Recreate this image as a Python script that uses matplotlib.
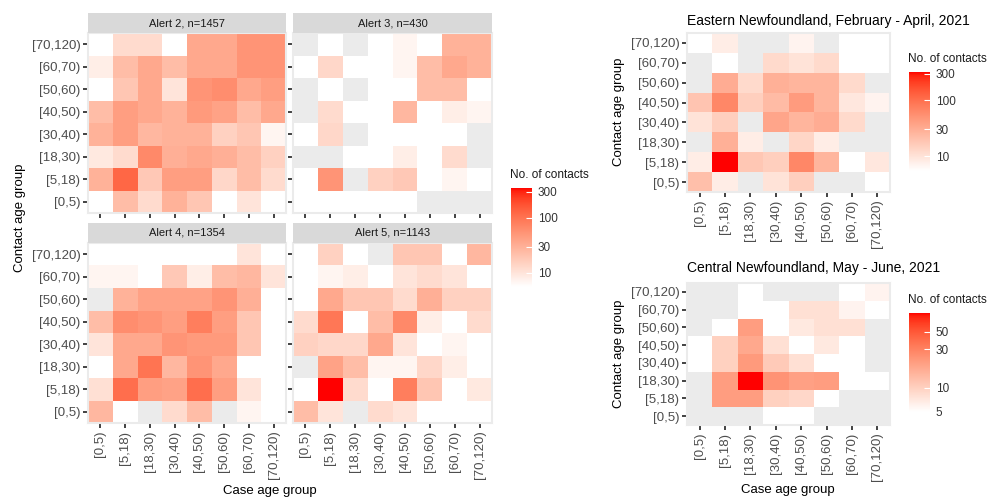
import numpy as np
import matplotlib
matplotlib.use("Agg")
import matplotlib.pyplot as plt
from matplotlib.colors import ListedColormap, LogNorm
from matplotlib.cm import ScalarMappable

plt.rcParams['font.family'] = ['Liberation Sans', 'DejaVu Sans']

age_groups = ['[0,5)', '[5,18)', '[18,30)', '[30,40)', '[40,50)', '[50,60)', '[60,70)', '[70,120)']
nan = np.nan

# contact counts, rows = contact age from [70,120) (top) down to [0,5) (bottom),
# columns = case age [0,5) ... [70,120); nan = no data (grey tile)
alert2 = [[5, 12, 12, 5, 36, 36, 54, 54],
          [8, 23, 36, 23, 36, 36, 54, 54],
          [5, 19, 36, 10, 54, 61, 36, 44],
          [23, 44, 36, 29, 48, 40, 23, 36],
          [29, 44, 26, 29, 29, 15, 19, 7],
          [9, 12, 66, 31, 36, 31, 23, 15],
          [29, 124, 18, 44, 44, 13, 23, 12],
          [5, 23, 12, 29, 19, 5, 10, 5]]
alert3 = [[nan, 5, nan, 5, 7, 5, 29, 29],
          [5, 13, 5, 5, 7, 23, 36, 29],
          [nan, 5, nan, 5, 5, 23, 23, 5],
          [nan, 12, 5, 5, 26, 5, 8, 7],
          [5, 13, nan, 5, 5, 5, 5, nan],
          [nan, nan, 5, 5, 8, 5, 12, nan],
          [5, 54, nan, 15, 18, 5, 7, 5],
          [5, 5, 5, 5, 5, nan, nan, nan]]
alert4 = [[5, 5, 5, 5, 5, 5, 10, 5],
          [7, 7, 5, 18, 8, 23, 26, 10],
          [nan, 29, 40, 40, 40, 54, 31, 5],
          [23, 61, 54, 44, 82, 44, 19, 5],
          [10, 36, 36, 54, 48, 48, 19, 5],
          [5, 36, 100, 26, 54, 36, 5, 5],
          [11, 109, 44, 40, 109, 44, 10, 5],
          [26, 5, nan, 12, 23, nan, 7, 5]]
alert5 = [[5, 15, 5, nan, 19, 19, 5, 26],
          [5, 7, 8, 5, 10, 12, 10, 5],
          [5, 36, 19, 19, 12, 31, 15, 15],
          [12, 93, 5, 23, 66, 8, 5, 12],
          [15, 13, 13, 36, 10, 5, 7, 5],
          [nan, 40, 23, 7, 7, 13, 8, 5],
          [5, 350, 12, 5, 82, 19, 5, 9],
          [23, 10, nan, 12, 10, 5, 5, 5]]
eastern = [[5, 8, nan, nan, 7, nan, 5, 5],
           [nan, 5, nan, 12, 10, 12, 5, 5],
           [nan, 31, 12, 29, 26, 26, 12, nan],
           [19, 66, 15, 23, 44, 26, 9, 7],
           [10, 15, nan, 36, 26, 31, 12, nan],
           [nan, 29, 8, nan, 13, 8, nan, nan],
           [8, 320, 18, 15, 66, 26, 5, 9],
           [21, 8, nan, 10, 15, nan, nan, 5]]
central = [[nan, nan, 5, nan, nan, nan, 5, 6],
           [nan, nan, 5, 5, 8, 8, 6, 5],
           [nan, 5, 21, 5, 7, 8, 8, nan],
           [5, 10, 18, 8, 5, 7, 5, nan],
           [5, 10, 22, 11, 8, 5, 5, nan],
           [nan, 21, 85, 24, 20, 21, 5, 5],
           [nan, 21, 21, 10, 9, 5, nan, nan],
           [nan, nan, nan, 5, 5, nan, nan, nan]]

alert_titles = ['Alert 2, n=1457', 'Alert 3, n=430', 'Alert 4, n=1354', 'Alert 5, n=1143']


# white -> red gradient interpolated in CIELAB (like ggplot's scale_fill_gradient)
def _lin(c):
    return np.where(c <= 0.04045, c / 12.92, ((c + 0.055) / 1.055) ** 2.4)


def _gam(c):
    c = np.clip(c, 0, 1)
    return np.where(c <= 0.0031308, 12.92 * c, 1.055 * c ** (1 / 2.4) - 0.055)


M = np.array([[0.4124, 0.3576, 0.1805], [0.2126, 0.7152, 0.0722], [0.0193, 0.1192, 0.9505]])
WP = np.array([0.95047, 1.0, 1.08883])
D = 6 / 29


def rgb2lab(rgb):
    xyz = M @ _lin(np.asarray(rgb, float)) / WP
    f = np.where(xyz > D ** 3, np.cbrt(xyz), xyz / (3 * D ** 2) + 4 / 29)
    return np.array([116 * f[1] - 16, 500 * (f[0] - f[1]), 200 * (f[1] - f[2])])


def lab2rgb(lab):
    L, a, b = lab
    fy = (L + 16) / 116
    f = np.array([fy + a / 500, fy, fy - b / 200])
    xyz = np.where(f > D, f ** 3, 3 * D ** 2 * (f - 4 / 29)) * WP
    return _gam(np.linalg.solve(M, xyz))


lo, hi = rgb2lab([1, 1, 1]), rgb2lab([1, 0, 0])
cmap = ListedColormap([lab2rgb(lo + t * (hi - lo)) for t in np.linspace(0, 1, 256)])
cmap.set_bad((0, 0, 0, 0))
cmap.set_under('white')

W, H = 998, 499
fig = plt.figure(figsize=(W / 100, H / 100), dpi=100)
TXT = '#4D4D4D'


def px_axes(x0, y0, x1, y1):
    return fig.add_axes([x0 / W, 1 - y1 / H, (x1 - x0) / W, (y1 - y0) / H])


def heat(ax, data, norm, ylab=True, xlab=True):
    z = np.ma.masked_invalid(np.array(data, float)[::-1])
    ax.set_facecolor('#EBEBEB')
    ax.pcolormesh(np.arange(9) - 0.5, np.arange(9) - 0.5, z, cmap=cmap, norm=norm)
    ax.set_xlim(-0.5, 7.5)
    ax.set_ylim(-0.5, 7.5)
    ax.set_xticks(range(8))
    ax.set_yticks(range(8))
    ax.set_xticklabels(age_groups if xlab else [], rotation=90)
    ax.set_yticklabels(age_groups if ylab else [])
    ax.tick_params(length=3.5, width=1.3, color='#333333', labelcolor=TXT,
                   labelsize=9.5, pad=2)
    for s in ax.spines.values():
        s.set_color('#EBEBEB')
        s.set_linewidth(1.5)


def legend(x0, y0, norm, ticks):
    cax = px_axes(x0, y0, x0 + 21, y0 + 99)
    cb = fig.colorbar(ScalarMappable(norm=norm, cmap=cmap), cax=cax)
    cb.outline.set_visible(False)
    cb.set_ticks(ticks)
    cb.set_ticklabels([str(t) for t in ticks])
    cb.minorticks_off()
    cax.tick_params(length=4, width=0.8, color='white', direction='in',
                    labelsize=8.5, labelcolor='#333333', pad=4)
    fig.text((x0 - 1) / W, 1 - (y0 - 7) / H, 'No. of contacts', fontsize=8.5,
             ha='left', va='bottom', color='#1A1A1A')


# left: faceted alerts
norm_left = LogNorm(vmin=5.5, vmax=350)
boxes = [(88, 33, 286, 213), (293, 33, 492, 213), (88, 243, 286, 423), (293, 243, 492, 423)]
for i, (data, (x0, y0, x1, y1)) in enumerate(zip([alert2, alert3, alert4, alert5], boxes)):
    ax = px_axes(x0, y0, x1, y1)
    heat(ax, data, norm_left, ylab=(i % 2 == 0), xlab=(i >= 2))
    sax = px_axes(x0, y0 - 20, x1, y0)
    sax.set_facecolor('#D9D9D9')
    sax.set_xticks([])
    sax.set_yticks([])
    for s in sax.spines.values():
        s.set_visible(False)
    sax.text(0.5, 0.5, alert_titles[i], ha='center', va='center', fontsize=8, color='#1A1A1A')

fig.text(20 / W, 1 - 218 / H, 'Contact age group', rotation=90, ha='center', va='center', fontsize=9.5)
fig.text(270 / W, 1 - 491 / H, 'Case age group', ha='center', va='center', fontsize=9.5)
legend(511, 188, norm_left, [10, 30, 100, 300])

# right: Eastern and Central Newfoundland
norm_e = LogNorm(vmin=5.4, vmax=320)
ax = px_axes(687, 33, 890, 192)
heat(ax, eastern, norm_e)
ax.set_title('Eastern Newfoundland, February - April, 2021', loc='left', fontsize=10, pad=6)
fig.text(619 / W, 1 - 112 / H, 'Contact age group', rotation=90, ha='center', va='center', fontsize=9.5)
legend(909, 72, norm_e, [10, 30, 100, 300])

norm_c = LogNorm(vmin=5, vmax=85)
ax = px_axes(687, 283, 890, 425)
heat(ax, central, norm_c)
ax.set_title('Central Newfoundland, May - June, 2021', loc='left', fontsize=10, pad=8)
fig.text(619 / W, 1 - 354 / H, 'Contact age group', rotation=90, ha='center', va='center', fontsize=9.5)
fig.text(788 / W, 1 - 490 / H, 'Case age group', ha='center', va='center', fontsize=9.5)
legend(909, 313, norm_c, [5, 10, 30, 50])

fig.savefig('out.png', dpi=100)
